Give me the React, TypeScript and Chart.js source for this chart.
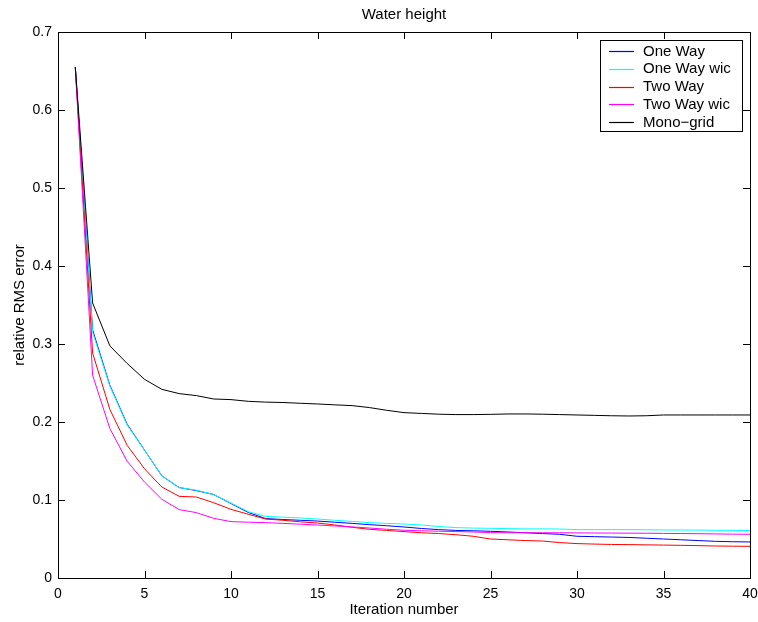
import React, { useEffect, useRef } from "react";
import { Chart, registerables } from "chart.js";

Chart.register(...registerables);

const iterations: number[] = [
  1, 2, 3, 4, 5, 6, 7, 8, 9, 10, 11, 12, 13, 14, 15, 16, 17, 18, 19, 20,
  21, 22, 23, 24, 25, 26, 27, 28, 29, 30, 31, 32, 33, 34, 35, 36, 37, 38, 39, 40,
];

const oneWay: number[] = [
  0.655, 0.318, 0.247, 0.197, 0.164, 0.131, 0.116, 0.112, 0.107, 0.0955,
  0.084, 0.0762, 0.075, 0.074, 0.073, 0.0715, 0.07, 0.0684, 0.067, 0.0654,
  0.0635, 0.062, 0.061, 0.0605, 0.0599, 0.059, 0.058, 0.057, 0.056, 0.0535,
  0.053, 0.0525, 0.052, 0.051, 0.05, 0.049, 0.048, 0.047, 0.0465, 0.0462,
];

const oneWayWic: number[] = [
  0.655, 0.315, 0.246, 0.196, 0.164, 0.131, 0.116, 0.1125, 0.107, 0.096,
  0.085, 0.079, 0.078, 0.077, 0.0756, 0.074, 0.0725, 0.071, 0.07, 0.0692,
  0.068, 0.066, 0.0646, 0.064, 0.0637, 0.0633, 0.063, 0.063, 0.0628, 0.062,
  0.062, 0.062, 0.062, 0.0618, 0.0616, 0.0615, 0.0614, 0.0612, 0.061, 0.0608,
];

const twoWay: number[] = [
  0.655, 0.2885, 0.216, 0.17, 0.14, 0.1167, 0.1047, 0.1038, 0.0965, 0.088,
  0.0817, 0.0756, 0.074, 0.072, 0.0705, 0.068, 0.065, 0.0624, 0.061, 0.0595,
  0.058, 0.057, 0.0555, 0.0535, 0.05, 0.049, 0.048, 0.0474, 0.0454, 0.0441,
  0.0435, 0.043, 0.0428, 0.0425, 0.0422, 0.0419, 0.0415, 0.041, 0.0408, 0.0406,
];

const twoWayWic: number[] = [
  0.655, 0.26, 0.1915, 0.1496, 0.123, 0.101, 0.0877, 0.0838, 0.0765, 0.0723,
  0.0715, 0.071, 0.07, 0.069, 0.0679, 0.0667, 0.0655, 0.0641, 0.0625, 0.0612,
  0.0605, 0.06, 0.0595, 0.059, 0.0582, 0.058, 0.058, 0.058, 0.058, 0.0578,
  0.0577, 0.0576, 0.0575, 0.0574, 0.0572, 0.057, 0.0568, 0.0565, 0.0562, 0.056,
];

const monoGrid: number[] = [
  0.655, 0.3526, 0.2975, 0.275, 0.2547, 0.2419, 0.2364, 0.2338, 0.2295, 0.2287,
  0.2265, 0.2255, 0.225, 0.224, 0.2231, 0.222, 0.221, 0.2185, 0.215, 0.212,
  0.211, 0.21, 0.2095, 0.2095, 0.2098, 0.2103, 0.2103, 0.21, 0.2095, 0.209,
  0.2085, 0.208, 0.2077, 0.208, 0.209, 0.209, 0.209, 0.209, 0.209, 0.209,
];

const seriesLabels: string[] = ["One Way", "One Way wic", "Two Way", "Two Way wic", "Mono\u2212grid"];
const seriesColors: string[] = ["#0000ff", "#00ffff", "#ff0000", "#ff00ff", "#000000"];
const xTicks: number[] = [0, 5, 10, 15, 20, 25, 30, 35, 40];
const yTicks: number[] = [0, 0.1, 0.2, 0.3, 0.4, 0.5, 0.6, 0.7];

const chartTitle = "Water height";
const xTitle = "Iteration number";
const yTitle = "relative RMS error";

const FONT = "'Liberation Sans', Arial, Helvetica, sans-serif";

export default function App() {
  const ref = useRef<HTMLCanvasElement | null>(null);

  useEffect(() => {
    if (!ref.current) return;
    const seriesValues = [oneWay, oneWayWic, twoWay, twoWayWic, monoGrid];

    const framePlugin = {
      id: "matlabFrame",
      afterDraw(chart: any) {
        const ctx = chart.ctx as CanvasRenderingContext2D;
        const { left, right, top, bottom } = chart.chartArea;
        const xs = chart.scales.x;
        const ys = chart.scales.y;
        ctx.save();
        ctx.strokeStyle = "#000";
        ctx.lineWidth = 1;
        ctx.strokeRect(Math.round(left) + 0.5, Math.round(top) + 0.5, Math.round(right - left), Math.round(bottom - top));
        const tl = 7;
        ctx.beginPath();
        for (const v of xTicks) {
          const px = Math.round(xs.getPixelForValue(v)) + 0.5;
          ctx.moveTo(px, bottom);
          ctx.lineTo(px, bottom - tl);
          ctx.moveTo(px, top);
          ctx.lineTo(px, top + tl);
        }
        for (const v of yTicks) {
          const py = Math.round(ys.getPixelForValue(v)) + 0.5;
          ctx.moveTo(left, py);
          ctx.lineTo(left + tl, py);
          ctx.moveTo(right, py);
          ctx.lineTo(right - tl, py);
        }
        ctx.stroke();

        // title
        ctx.fillStyle = "#000";
        ctx.font = `15px ${FONT}`;
        ctx.textAlign = "center";
        ctx.textBaseline = "middle";
        ctx.fillText(chartTitle, (left + right) / 2, 15);

        // legend
        const bx = 600.5, by = 40.5, bw = 142, bh = 91;
        ctx.fillStyle = "#fff";
        ctx.fillRect(bx, by, bw, bh);
        ctx.strokeStyle = "#000";
        ctx.lineWidth = 1;
        ctx.strokeRect(bx, by, bw, bh);
        ctx.textAlign = "left";
        ctx.textBaseline = "middle";
        seriesLabels.forEach((label, i) => {
          const yy = 51 + i * 17.75;
          ctx.strokeStyle = seriesColors[i];
          ctx.lineWidth = 1.2;
          ctx.beginPath();
          ctx.moveTo(609, Math.round(yy) + 0.5);
          ctx.lineTo(634, Math.round(yy) + 0.5);
          ctx.stroke();
          ctx.fillStyle = "#000";
          ctx.fillText(label, 643, yy + 0.5);
        });
        ctx.restore();
      },
    };

    const chart = new Chart(ref.current, {
      type: "line",
      data: {
        labels: iterations,
        datasets: seriesLabels.map((label, i) => ({
          label,
          data: iterations.map((x, j) => ({ x, y: seriesValues[i][j] })),
          borderColor: seriesColors[i],
          backgroundColor: seriesColors[i],
          borderWidth: 1,
          pointRadius: 0,
          tension: 0,
          fill: false,
          order: seriesLabels.length - 1 - i,
        })),
      },
      options: {
        responsive: false,
        animation: false,
        events: [],
        layout: { padding: { top: 32, right: 8, left: 0, bottom: 0 } },
        plugins: {
          legend: { display: false },
          title: { display: false },
          tooltip: { enabled: false },
        },
        scales: {
          x: {
            type: "linear",
            min: 0,
            max: 40,
            afterFit: (s: any) => {
              s.height = 44;
              s.paddingLeft = 0;
              s.paddingRight = 0;
            },
            afterBuildTicks: (s: any) => { s.ticks = xTicks.map((v) => ({ value: v })); },
            grid: { display: false, drawTicks: false },
            border: { display: false },
            ticks: {
              color: "#000",
              font: { family: FONT, size: 14 },
              padding: 8,
              maxRotation: 0,
              callback: (v: any) => String(v),
            },
            title: {
              display: true,
              text: xTitle,
              color: "#000",
              font: { family: FONT, size: 15 },
              padding: { top: 3, bottom: 3 },
            },
          },
          y: {
            type: "linear",
            min: 0,
            max: 0.7,
            afterFit: (s: any) => {
              s.width = 58;
              s.paddingTop = 0;
              s.paddingBottom = 0;
            },
            afterBuildTicks: (s: any) => { s.ticks = yTicks.map((v) => ({ value: v })); },
            grid: { display: false, drawTicks: false },
            border: { display: false },
            ticks: {
              color: "#000",
              font: { family: FONT, size: 14 },
              padding: 6,
              callback: (v: any) => String(Number(Number(v).toFixed(1))),
            },
            title: {
              display: true,
              text: yTitle,
              color: "#000",
              font: { family: FONT, size: 15 },
              padding: { top: 11, bottom: 11 },
            },
          },
        },
      },
      plugins: [framePlugin],
    } as any);

    return () => chart.destroy();
  }, []);

  return (
    <div style={{ position: "absolute", left: 0, top: 0, width: 758, height: 622, background: "#fff" }}>
      <canvas ref={ref} width={758} height={622} style={{ display: "block" }} />
    </div>
  );
}
